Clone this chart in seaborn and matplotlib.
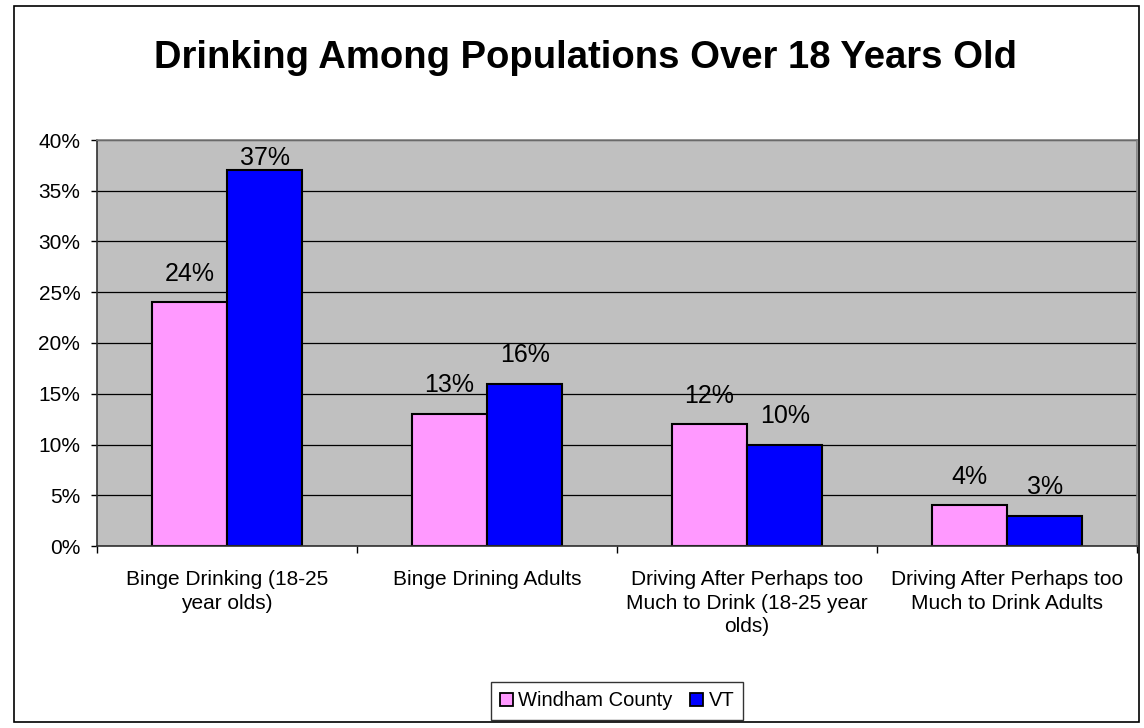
import numpy as np
import pandas as pd
import matplotlib
matplotlib.use("Agg")
import matplotlib.pyplot as plt
import seaborn as sns
from matplotlib.ticker import PercentFormatter, FixedLocator
from matplotlib.patches import Rectangle

categories = [
    "Binge Drinking (18-25\nyear olds)",
    "Binge Drining Adults",
    "Driving After Perhaps too\nMuch to Drink (18-25 year\nolds)",
    "Driving After Perhaps too\nMuch to Drink Adults",
]
series = ["Windham County", "VT"]
windham = [0.24, 0.13, 0.12, 0.04]
vt = [0.37, 0.16, 0.10, 0.03]
colors = ["#FF99FF", "#0000FF"]

df = pd.DataFrame({
    "category": categories * 2,
    "group": [series[0]] * 4 + [series[1]] * 4,
    "value": windham + vt,
})

sns.set_style("white")
plt.rcParams["font.family"] = ["Liberation Sans", "DejaVu Sans"]
plt.rcParams["text.color"] = "black"
plt.rcParams["xtick.color"] = "black"
plt.rcParams["ytick.color"] = "black"
plt.rcParams["axes.labelcolor"] = "black"

W, H = 1144, 728
fig = plt.figure(figsize=(W / 100, H / 100), dpi=100)
ax = fig.add_axes([97 / W, 1 - 546 / H, (1137 - 97) / W, (546 - 140) / H])

sns.barplot(data=df, x="category", y="value", hue="group", palette=colors,
            saturation=1, width=0.58, gap=0, edgecolor="black", linewidth=1.5,
            ax=ax, legend=True)

ax.set_facecolor("#C0C0C0")
ymax = 0.40
ax.set_ylim(0, ymax)
ax.set_xlim(-0.5, 3.5)
ax.yaxis.set_major_locator(FixedLocator(np.arange(0, 0.401, 0.05)))
ax.yaxis.set_major_formatter(PercentFormatter(1.0, decimals=0))
ax.grid(axis="y", color="black", linewidth=0.9)
ax.set_axisbelow(True)
ax.set_xlabel("")
ax.set_ylabel("")

for s in ["top", "right"]:
    ax.spines[s].set_color("#808080")
    ax.spines[s].set_linewidth(1.2)
for s in ["left", "bottom"]:
    ax.spines[s].set_color("#303030")
    ax.spines[s].set_linewidth(1.2)

ax.tick_params(axis="y", which="major", left=True, length=4, width=1, labelsize=15, pad=8)
ax.tick_params(axis="x", which="major", bottom=False, labelsize=15, pad=14)
for lab in ax.get_xticklabels():
    lab.set_linespacing(1.3)
ax.set_xticks(np.arange(-0.5, 3.6, 1.0), minor=True)
ax.tick_params(axis="x", which="minor", bottom=True, length=5, width=1)

# value labels above bars; Excel keeps the tallest one inside the plot area
for cont in ax.containers:
    for bar, v in zip(cont, cont.datavalues):
        cx = bar.get_x() + bar.get_width() / 2
        off = 0 if v + 0.045 > ymax else 12
        ax.annotate(f"{v * 100:.0f}%", (cx, v), xytext=(0, off), textcoords="offset points",
                    ha="center", va="bottom", fontsize=18)

leg = ax.legend(loc="center", bbox_to_anchor=(617 / W, 1 - 701 / H),
                bbox_transform=fig.transFigure, ncol=2, frameon=True, fancybox=False,
                edgecolor="black", fontsize=14.5, handlelength=0.65, handleheight=0.65,
                handletextpad=0.25, columnspacing=0.9, borderpad=0.45, borderaxespad=0)
leg.get_frame().set_linewidth(1)
for h in leg.legend_handles:
    h.set_edgecolor("black")
    h.set_linewidth(1.3)

fig.text(585 / W, 1 - 58 / H, "Drinking Among Populations Over 18 Years Old",
         ha="center", va="center", fontsize=27.5, fontweight="bold")

fig.patches.append(Rectangle((14 / W, 6 / H), 1125 / W, 716 / H,
                             transform=fig.transFigure, fill=False,
                             edgecolor="black", linewidth=1.2))

fig.savefig("out.png", dpi=100)
